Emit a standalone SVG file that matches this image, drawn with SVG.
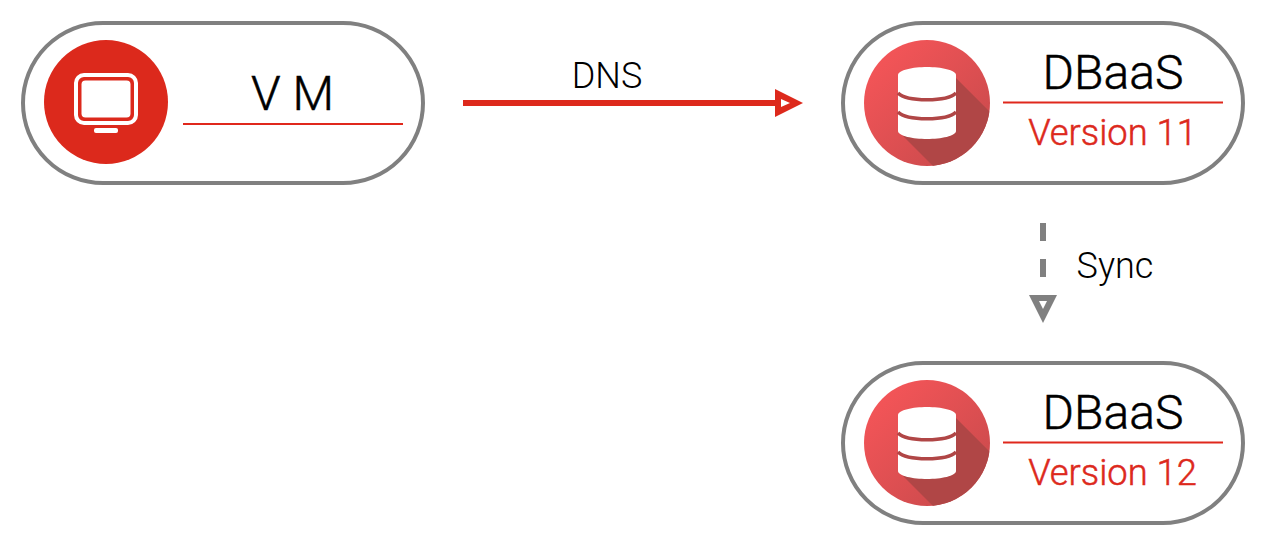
<svg xmlns="http://www.w3.org/2000/svg" width="1264" height="544" viewBox="0 0 1264 544">
<style>
.pill{fill:#fff;stroke:#808080;stroke-width:4}
.rule{stroke:#e0281c;stroke-width:1.8;fill:none}
.title{font-family:Roboto,"Liberation Sans",sans-serif;font-weight:300;font-size:48px;fill:#000;stroke:#000;stroke-width:.5;text-anchor:middle}
.ver{font-family:Roboto,"Liberation Sans",sans-serif;font-weight:300;font-size:36.300px;fill:#dd291c;stroke:#dd291c;stroke-width:.5;text-anchor:middle}
.lab{font-family:Roboto,"Liberation Sans",sans-serif;font-weight:300;font-size:36px;fill:#000;text-anchor:middle}
.band{stroke:#b04646;stroke-width:3.500;fill:none}
</style>
<defs>
<linearGradient id="g" x1="0" y1="0" x2="1" y2="1"><stop offset="0.1" stop-color="#f55558"/><stop offset="0.9" stop-color="#c94a4c"/></linearGradient>
<clipPath id="c"><circle cx="0" cy="0" r="63"/></clipPath>
<g id="db">
<circle r="63" fill="url(#g)"/>
<path clip-path="url(#c)" d="M29 -25L85 31V85H28L-24 33Z" fill="#b04646"/>
<path d="M-29 -28C-29 -33 -14 -36 0 -36C14 -36 29 -33 29 -28V28C29 33 14 36 0 36C-14 36 -29 33 -29 28Z" fill="#fff"/>
<path class="band" d="M-29 -10C-20 -1 20 -1 29 -10M-29 9C-20 18 20 18 29 9"/>
</g>
</defs>
<g id="connectors">
<path d="M463 103H778" stroke="#dd291c" stroke-width="6" fill="none"/>
<path d="M775 89L803 103L775 117Z" fill="#dd291c"/><path d="M781 99L790 103L781 107Z" fill="#fff"/>
<path d="M1043 223V241M1043 259V277" stroke="#808080" stroke-width="6" fill="none"/>
<path d="M1029 295H1057L1043 323Z" fill="#808080"/><path d="M1039 301H1047L1043 309Z" fill="#fff"/>
<text class="lab" x="607" y="88">DNS</text>
<text class="lab" x="1115" y="278">Sync</text>
</g>
<g id="vm">
<rect class="pill" x="23" y="23" width="400" height="160" rx="80"/>
<circle cx="106" cy="102" r="62" fill="#dc291c"/>
<rect x="76" y="75" width="60" height="48" rx="8" fill="none" stroke="#fff" stroke-width="4"/>
<rect x="81.500" y="80.500" width="49" height="37" rx="4" fill="#fff"/>
<rect x="94" y="128" width="24" height="5" rx="2" fill="#fff"/>
<text class="title" x="292.500" y="110">V M</text>
<path class="rule" d="M183 124H403"/>
</g>
<g id="dbaas11">
<rect class="pill" x="843" y="23" width="400" height="160" rx="80"/>
<use href="#db" x="927" y="103"/>
<text class="title" x="1113" y="89">DBaaS</text>
<path class="rule" d="M1003 102.500H1223"/>
<text class="ver" x="1112.500" y="144.500">Version 11</text>
</g>
<g id="dbaas12">
<rect class="pill" x="843" y="363" width="400" height="160" rx="80"/>
<use href="#db" x="927" y="443"/>
<text class="title" x="1113" y="429">DBaaS</text>
<path class="rule" d="M1003 442.500H1223"/>
<text class="ver" x="1112.500" y="484.500">Version 12</text>
</g>
</svg>
